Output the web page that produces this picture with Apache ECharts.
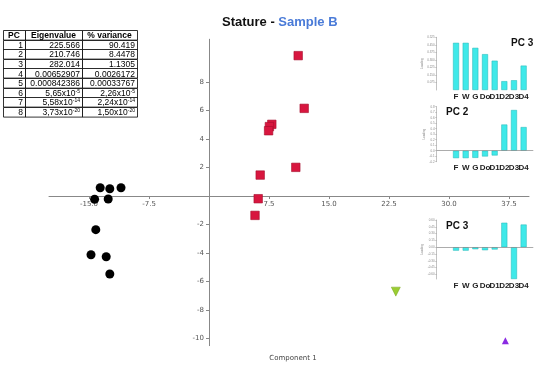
<!DOCTYPE html>
<html><head><meta charset="utf-8">
<script src="https://cdn.jsdelivr.net/npm/echarts@6/dist/echarts.min.js"></script>
<style>html,body{margin:0;padding:0;background:#fff}#c{width:550px;height:372px}</style>
</head><body><div id="c"></div>
<script>
// ---- data ----
const circles = [[-13.6,0.58],[-12.4,0.51],[-11.0,0.58],[-14.3,-0.23],[-12.6,-0.21],[-14.15,-2.36],[-14.75,-4.12],[-12.85,-4.26],[-12.4,-5.47]];
const squares = [[11.15,9.85],[11.9,6.15],[7.85,5.03],[7.55,4.87],[7.45,4.58],[10.85,2.01],[6.4,1.47],[6.15,-0.19],[5.75,-1.36]];
const downTri = [[23.35,-6.71]];
const upTri = [[37.05,-10.15]];
const xTicks = [-15,-7.5,7.5,15,22.5,30,37.5];
const yTicks = [-10,-8,-6,-4,-2,2,4,6,8];
const variables = ['F','W','G','Do','D1','D2','D3','D4'];
const loadA = [0.47,0.47,0.42,0.357,0.292,0.088,0.097,0.243];
const loadB = [-0.135,-0.135,-0.13,-0.105,-0.087,0.476,0.74,0.43];
const loadC = [-0.075,-0.075,-0.044,-0.066,-0.05,0.54,-0.70,0.5];
const ticksA = [0.075,0.15,0.225,0.3,0.375,0.45,0.525];
const ticksB = [-0.2,-0.1,0,0.1,0.2,0.3,0.4,0.5,0.6,0.7,0.8];
const ticksC = [-0.6,-0.45,-0.3,-0.15,0,0.15,0.3,0.45,0.6];
const tableHeaders = ['PC','Eigenvalue','% variance'];
const pcCol = ['1','2','3','4','5','6','7','8'];
const eigenCol = ['225.566','210.746','282.014','0.00652907','0.000842386','5,65x10^-5','5,58x10^-14','3,73x10^-20'];
const varCol = ['90.419','8.4478','1.1305','0.0026172','0.00033767','2,26x10^-5','2,24x10^-14','1,50x10^-20'];

// ---- build ----
const FONT = 'Liberation Sans';
const X_MIN=-20, X_MAX=40, Y_MIN=-10.5, Y_MAX=11;
const MAIN = {left:49, width:480, top:39.25, height:306.4};
const x0px = MAIN.left + (0-X_MIN)/(X_MAX-X_MIN)*MAIN.width;
const y0px = MAIN.top + (Y_MAX-0)/(Y_MAX-Y_MIN)*MAIN.height;

const padCats = [' ','  ',...variables,'   '];
const pad = arr => ['-','-',...arr,'-'];

function insetX(gi){
  return {type:'category', gridIndex:gi, data:padCats, boundaryGap:false,
    axisLine:{show:false,onZero:false}, axisTick:{show:false},
    axisLabel:{interval:0, fontSize:8, fontWeight:'bold', color:'#222', margin:2.5, fontFamily:FONT},
    splitLine:{show:false}};
}
function insetY(gi,min,max,ticks,digits){
  return {type:'value', gridIndex:gi, min, max,
    axisLine:{show:true,onZero:false,lineStyle:{color:'#999',width:0.6}},
    axisTick:{show:true,length:1.5,customValues:ticks,lineStyle:{color:'#999',width:0.5}},
    axisLabel:{show:true,customValues:ticks,fontSize:3,color:'#888',margin:2,formatter:v=>v.toFixed(digits)},
    splitLine:{show:false},
    name:'Loading', nameLocation:'middle', nameGap:11, nameTextStyle:{fontSize:3,color:'#888'}};
}
const barStyle = {color:'#3fe9e9', borderColor:'#22b5b5', borderWidth:0.5, opacity:1};
const zeroLine = {silent:true, symbol:['none','none'], label:{show:false},
  lineStyle:{color:'#888',width:0.7,type:'solid'}, data:[{yAxis:0}]};

function fmtCell(s){
  const i = s.indexOf('^');
  if(i<0) return s;
  return s.slice(0,i)+'{s|'+s.slice(i+1)+'}';
}
const tableEls = [];
const cols=[3,25,82,137], rowH=9.6, top0=30;
const rows = [tableHeaders, ...pcCol.map((p,i)=>[p,eigenCol[i],varCol[i]])];
rows.forEach((row,r)=>{
  row.forEach((cell,c)=>{
    const x0=cols[c], x1=cols[c+1], y0=top0+r*rowH;
    tableEls.push({type:'rect', shape:{x:x0+0.5,y:Math.round(y0)+0.5,width:x1-x0,height:rowH},
      style:{fill:'#fff',stroke:'#000',lineWidth:0.8}});
    tableEls.push({type:'text', x: r===0?(x0+x1)/2:x1-2, y:y0+rowH/2+1,
      style:{text:fmtCell(cell), fontSize:8.5, fontWeight:r===0?'bold':'normal', fontFamily:FONT,
        fill:'#000', align:r===0?'center':'right', verticalAlign:'middle',
        rich:{s:{fontSize:5, verticalAlign:'top', fontFamily:FONT, fill:'#000'}}}});
  });
});

const chart = echarts.init(document.getElementById('c'), null, {renderer:'canvas'});
chart.setOption({
  animation:false,
  backgroundColor:'#fff',
  title:[
    {text:'{a|Stature - }{b|Sample B}', left:222, top:16, padding:0,
      textStyle:{rich:{a:{fontSize:13,fontWeight:'bold',color:'#111',fontFamily:FONT},
                       b:{fontSize:13,fontWeight:'bold',color:'#4a7bd8',fontFamily:FONT}}}},
    {text:'PC 3', left:511, top:38, padding:0, textStyle:{fontSize:10,fontWeight:'bold',color:'#111',fontFamily:FONT}},
    {text:'PC 2', left:446, top:107, padding:0, textStyle:{fontSize:10,fontWeight:'bold',color:'#111',fontFamily:FONT}},
    {text:'PC 3', left:446, top:221, padding:0, textStyle:{fontSize:10,fontWeight:'bold',color:'#111',fontFamily:FONT}}
  ],
  grid:[
    MAIN,
    {left:436.7, width:96.6, top:37.3, height:52.7},
    {left:436.7, width:96.6, top:106.7, height:55},
    {left:436.7, width:96.6, top:220, height:59},
    // helper grids carrying the tick labels of the crossing axes
    {left:x0px, width:10, top:MAIN.top, height:MAIN.height},
    {left:MAIN.left, width:MAIN.width, top:MAIN.top, height:y0px-MAIN.top}
  ],
  xAxis:[
    {type:'value', gridIndex:0, min:X_MIN, max:X_MAX,
      axisLine:{onZero:true,lineStyle:{color:'#888',width:1}},
      axisTick:{customValues:xTicks,length:3,lineStyle:{color:'#888'}},
      axisLabel:{show:false}, splitLine:{show:false}},
    insetX(1), insetX(2), insetX(3),
    {type:'value', gridIndex:4, min:0, max:1, show:false},
    {type:'value', gridIndex:5, min:X_MIN, max:X_MAX, position:'bottom',
      axisLine:{show:false}, axisTick:{show:false}, splitLine:{show:false},
      axisLabel:{customValues:xTicks,formatter:v=>v.toFixed(1),fontSize:7,color:'#555',margin:5,fontFamily:'DejaVu Sans'}}
  ],
  yAxis:[
    {type:'value', gridIndex:0, min:Y_MIN, max:Y_MAX,
      axisLine:{onZero:true,lineStyle:{color:'#888',width:1}},
      axisTick:{customValues:yTicks,length:3,lineStyle:{color:'#888'}},
      axisLabel:{show:false}, splitLine:{show:false}},
    insetY(1,0,0.525,ticksA,3),
    insetY(2,-0.2,0.8,ticksB,1),
    insetY(3,-0.7,0.6,ticksC,2),
    {type:'value', gridIndex:4, min:Y_MIN, max:Y_MAX, position:'left',
      axisLine:{show:false}, axisTick:{show:false}, splitLine:{show:false},
      axisLabel:{customValues:yTicks,formatter:v=>String(v),fontSize:7,color:'#555',margin:5,fontFamily:'DejaVu Sans'}},
    {type:'value', gridIndex:5, min:0, max:1, show:false}
  ],
  series:[
    {type:'scatter', xAxisIndex:0, yAxisIndex:0, data:circles, symbol:'circle', symbolSize:9,
      itemStyle:{color:'#000', opacity:1}},
    {type:'scatter', xAxisIndex:0, yAxisIndex:0, data:squares, symbol:'rect', symbolSize:8.5,
      itemStyle:{color:'#d8163f', borderColor:'#a50f2d', borderWidth:0.6, opacity:1}},
    {type:'scatter', xAxisIndex:0, yAxisIndex:0, data:downTri, symbol:'triangle', symbolRotate:180, symbolSize:9,
      itemStyle:{color:'#9acd32', borderColor:'#7aa522', borderWidth:0.5, opacity:1}},
    {type:'scatter', xAxisIndex:0, yAxisIndex:0, data:upTri, symbol:'triangle', symbolSize:7,
      itemStyle:{color:'#8a2be2', opacity:1}},
    {type:'bar', xAxisIndex:1, yAxisIndex:1, data:pad(loadA), barWidth:6, itemStyle:barStyle},
    {type:'bar', xAxisIndex:2, yAxisIndex:2, data:pad(loadB), barWidth:6, itemStyle:barStyle, markLine:zeroLine},
    {type:'bar', xAxisIndex:3, yAxisIndex:3, data:pad(loadC), barWidth:6, itemStyle:barStyle, markLine:zeroLine}
  ],
  graphic:[
    {type:'group', children:tableEls},
    {type:'text', x:293, y:358, style:{text:'Component 1', fontSize:7, fill:'#444', fontFamily:'DejaVu Sans', align:'center', verticalAlign:'middle'}}
  ]
});
</script></body></html>
